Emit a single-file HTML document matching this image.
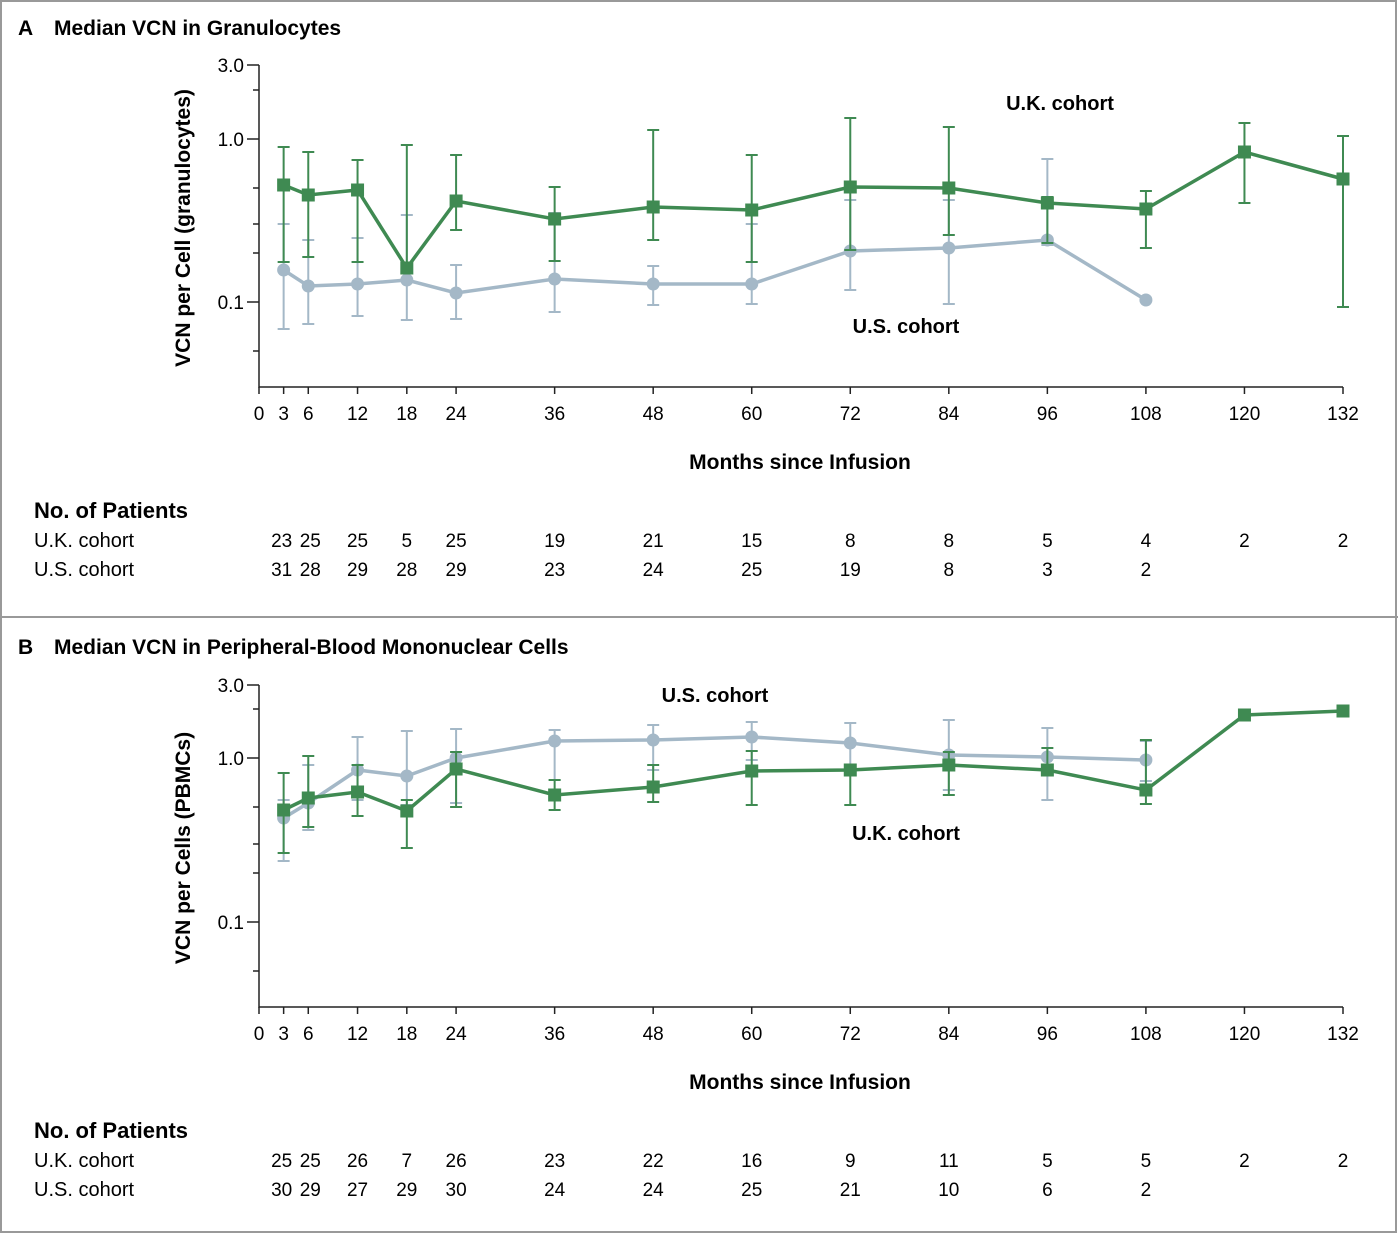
<!DOCTYPE html>
<html><head><meta charset="utf-8"><style>
body{margin:0;background:#fff}
svg{display:block;font-family:"Liberation Sans",sans-serif}
</style></head><body>
<svg width="1398" height="1234" viewBox="0 0 1398 1234">
<rect x="1" y="1" width="1395" height="1231" fill="none" stroke="#999" stroke-width="2"/>
<line x1="0" y1="617" x2="1398" y2="617" stroke="#999" stroke-width="2"/>
<g id="A">
<text x="18" y="35" font-size="21" font-weight="bold">A</text>
<text x="54" y="35" font-size="21" font-weight="bold">Median VCN in Granulocytes</text>
<g stroke="#222" stroke-width="1.5" fill="none">
<polyline points="259,65 259,387 1343,387"/>
<line x1="247" y1="65" x2="259" y2="65"/><line x1="253" y1="90" x2="259" y2="90"/><line x1="247" y1="139" x2="259" y2="139"/><line x1="253" y1="188" x2="259" y2="188"/><line x1="253" y1="224" x2="259" y2="224"/><line x1="253" y1="253" x2="259" y2="253"/><line x1="247" y1="302" x2="259" y2="302"/><line x1="253" y1="351" x2="259" y2="351"/>
</g>
<g font-size="19" text-anchor="end"><text x="244" y="72">3.0</text><text x="244" y="146">1.0</text><text x="244" y="309">0.1</text></g>
<text transform="translate(190,228) rotate(-90)" font-size="21" font-weight="bold" text-anchor="middle">VCN per Cell (granulocytes)</text>
<text x="1060" y="110" font-size="20" font-weight="bold" text-anchor="middle">U.K. cohort</text>
<text x="906" y="333" font-size="20" font-weight="bold" text-anchor="middle">U.S. cohort</text>
<text x="800" y="469" font-size="21" font-weight="bold" text-anchor="middle">Months since Infusion</text>
</g>
<g id="B">
<text x="18" y="654" font-size="21" font-weight="bold">B</text>
<text x="54" y="654" font-size="21" font-weight="bold">Median VCN in Peripheral-Blood Mononuclear Cells</text>
<g stroke="#222" stroke-width="1.5" fill="none">
<polyline points="259,685 259,1007 1343,1007"/>
<line x1="247" y1="685" x2="259" y2="685"/><line x1="253" y1="709" x2="259" y2="709"/><line x1="247" y1="758" x2="259" y2="758"/><line x1="253" y1="807" x2="259" y2="807"/><line x1="253" y1="844" x2="259" y2="844"/><line x1="253" y1="873" x2="259" y2="873"/><line x1="247" y1="922" x2="259" y2="922"/><line x1="253" y1="971" x2="259" y2="971"/>
</g>
<g font-size="19" text-anchor="end"><text x="244" y="692">3.0</text><text x="244" y="765">1.0</text><text x="244" y="929">0.1</text></g>
<text transform="translate(190,848) rotate(-90)" font-size="21" font-weight="bold" text-anchor="middle">VCN per Cells (PBMCs)</text>
<text x="715" y="702" font-size="20" font-weight="bold" text-anchor="middle">U.S. cohort</text>
<text x="906" y="840" font-size="20" font-weight="bold" text-anchor="middle">U.K. cohort</text>
<text x="800" y="1089" font-size="21" font-weight="bold" text-anchor="middle">Months since Infusion</text>
</g>
<script>
const ns="http://www.w3.org/2000/svg";
const svg=document.querySelector('svg');
function el(t,a,p){const e=document.createElementNS(ns,t);for(const k in a)e.setAttribute(k,a[k]);(p||svg).appendChild(e);return e;}
const X=m=>259+m*1084/132;
const months=[3,6,12,18,24,36,48,60,72,84,96,108,120,132];
[[387,0],[1007,620]].forEach(([yb,off])=>{
 const ticks=[0,3,6,12,18,24,36,48,60,72,84,96,108,120,132];
 ticks.forEach(m=>{el('line',{x1:X(m),y1:yb,x2:X(m),y2:yb+7,stroke:'#222','stroke-width':1.5});
  const t=el('text',{x:X(m),y:yb+33,'font-size':19,'text-anchor':'middle'});t.textContent=m;});
 let t=el('text',{x:34,y:yb+131,'font-size':22,'font-weight':'bold'});t.textContent='No. of Patients';
 t=el('text',{x:34,y:yb+160,'font-size':20});t.textContent='U.K. cohort';
 t=el('text',{x:34,y:yb+189,'font-size':20});t.textContent='U.S. cohort';
});
const nA=[[23,25,25,5,25,19,21,15,8,8,5,4,2,2],[31,28,29,28,29,23,24,25,19,8,3,2]];
const nB=[[25,25,26,7,26,23,22,16,9,11,5,5,2,2],[30,29,27,29,30,24,24,25,21,10,6,2]];
[[nA,547],[nB,1167]].forEach(([n,y])=>{n.forEach((r,i)=>r.forEach((v,j)=>{const xs=X(months[j])+(j<2?(j==0?-2:2):0);
 const t=el('text',{x:xs,y:y+i*29,'font-size':19,'text-anchor':'middle'});t.textContent=v;}));});
const G='#3f8a52',U='#a4b8c7';
function series(col,pts,err,sq){
 err.forEach((e,i)=>{if(!e)return;const x=X(months[i]);
  el('line',{x1:x,y1:e[0],x2:x,y2:e[1],stroke:col,'stroke-width':2});
  el('line',{x1:x-6,y1:e[0],x2:x+6,y2:e[0],stroke:col,'stroke-width':2});
  el('line',{x1:x-6,y1:e[1],x2:x+6,y2:e[1],stroke:col,'stroke-width':2});});
 el('polyline',{points:pts.map((y,i)=>X(months[i])+','+y).join(' '),fill:'none',stroke:col,'stroke-width':3.5});
 pts.forEach((y,i)=>{const x=X(months[i]);
  if(sq)el('rect',{x:x-6.5,y:y-6.5,width:13,height:13,fill:col});else el('circle',{cx:x,cy:y,r:6.5,fill:col});});
}
series(U,[270,286,284,280,293,279,284,284,251,248,240,300],
 [[224,329],[240,324],[238,316],[215,320],[265,319],[213,312],[266,305],[224,304],[200,290],[200,304],[159,245],null],false);
series(G,[185,195,190,268,201,219,207,210,187,188,203,209,152,179],
 [[147,262],[152,257],[160,262],[145,270],[155,230],[187,261],[130,240],[155,262],[118,250],[127,235],[197,243],[191,248],[123,203],[136,307]],true);
series(U,[818,803,770,776,758,741,740,737,743,755,757,760],
 [[800,861],[765,830],[737,800],[731,805],[729,803],[730,780],[725,770],[722,760],[723,765],[720,790],[728,800],[741,781]],false);
series(G,[810,798,792,811,769,795,787,771,770,765,770,790,715,711],
 [[773,853],[756,827],[765,816],[800,848],[752,807],[780,810],[765,802],[751,805],[765,805],[752,795],[748,773],[740,804],null,null],true);
</script>
</svg>
</body></html>
